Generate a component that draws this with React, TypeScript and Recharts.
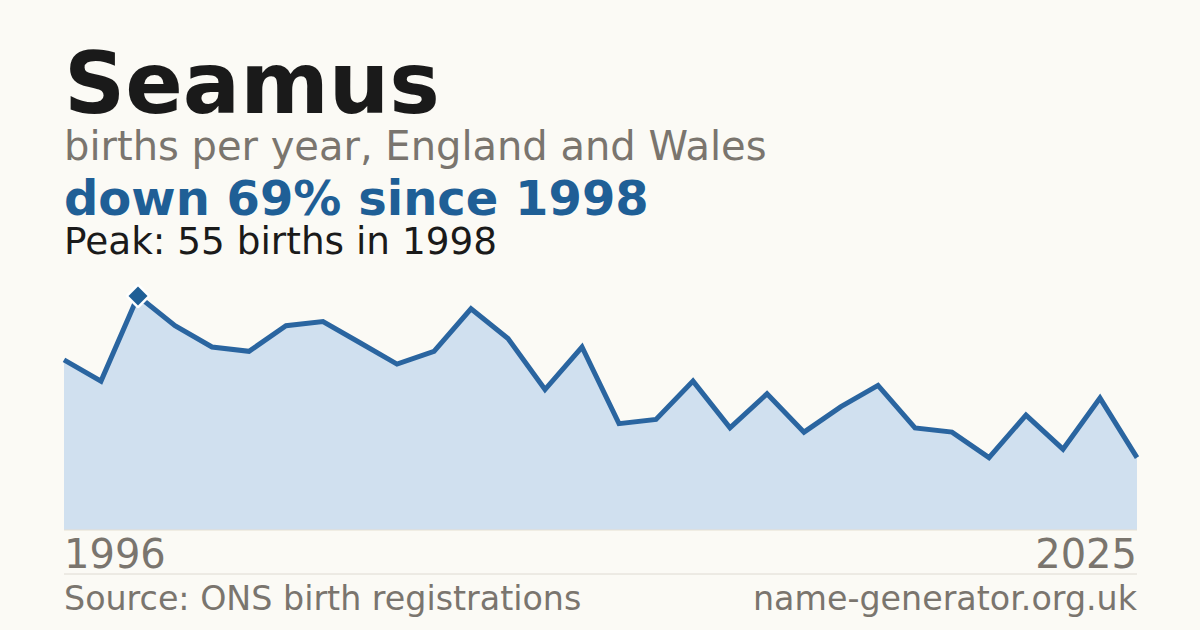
import React from 'react';
import { AreaChart, Area, XAxis, YAxis, ReferenceLine } from 'recharts';

const years = [
  1996, 1997, 1998, 1999, 2000, 2001, 2002, 2003, 2004, 2005,
  2006, 2007, 2008, 2009, 2010, 2011, 2012, 2013, 2014, 2015,
  2016, 2017, 2018, 2019, 2020, 2021, 2022, 2023, 2024, 2025,
];
const births = [
  40, 35, 55, 48, 43, 42, 48, 49, 44, 39,
  42, 52, 45, 33, 43, 25, 26, 35, 24, 32,
  23, 29, 34, 24, 23, 17, 27, 19, 31, 17,
];
const tickYears = [1996, 2025];
const peakYear = 1998;

const data = years.map((year, i) => ({ year, births: births[i] }));

const FONT = '"DejaVu Sans", sans-serif';
const BG = '#fbfaf5';
const GREY = '#7a756e';
const BLUE = '#1f5f96';

const YearTick = (props: any) => {
  const { x, y, payload } = props;
  const first = payload.value === tickYears[0];
  return (
    <text
      x={x}
      y={y + 30}
      textAnchor={first ? 'start' : 'end'}
      fontFamily={FONT}
      fontSize={40}
      fill={GREY}
    >
      {payload.value}
    </text>
  );
};

// diamond marker on the peak year only
const PeakDot = (props: any) => {
  const { cx, cy, payload } = props;
  const key = `dot-${payload.year}`;
  if (payload.year !== peakYear) return <g key={key} />;
  const r = 9.5;
  return (
    <path
      key={key}
      d={`M${cx},${cy - r} L${cx + r},${cy} L${cx},${cy + r} L${cx - r},${cy} Z`}
      fill={BLUE}
      stroke="#ffffff"
      strokeWidth={5}
      strokeLinejoin="round"
      paintOrder="stroke"
    />
  );
};

export default function App() {
  return (
    <div style={{ position: 'fixed', left: 0, top: 0, width: 1200, height: 630, background: BG, overflow: 'hidden' }}>
      <div style={{ position: 'absolute', left: 0, top: 0 }}>
        <AreaChart
          width={1200}
          height={630}
          data={data}
          margin={{ top: 274.7, right: 63, bottom: 60, left: 64 }}
        >
          <XAxis
            dataKey="year"
            type="number"
            domain={[1996, 2025]}
            ticks={tickYears}
            axisLine={false}
            tickLine={false}
            tick={YearTick}
            height={40}
            interval={0}
          />
          <YAxis hide domain={[0, 60]} />
          <ReferenceLine y={0} stroke="#e6dfd2" strokeWidth={1} />
          <Area
            type="linear"
            dataKey="births"
            stroke="#2a65a0"
            strokeWidth={5}
            fill="#d0e0ef"
            fillOpacity={1}
            dot={PeakDot}
            activeDot={false}
            isAnimationActive={false}
          />
        </AreaChart>
      </div>
      <svg width={1200} height={630} style={{ position: 'absolute', left: 0, top: 0, pointerEvents: 'none' }}>
        <text x={64} y={113} fontFamily={FONT} fontWeight="bold" fontSize={85} fill="#1a1a1a">Seamus</text>
        <text x={64} y={160} fontFamily={FONT} fontSize={40} fill={GREY}>births per year, England and Wales</text>
        <text x={64} y={215} fontFamily={FONT} fontWeight="bold" fontSize={48} fill={BLUE}>down 69% since 1998</text>
        <text x={64} y={254} fontFamily={FONT} fontSize={37.4} fill="#1a1a1a">Peak: 55 births in 1998</text>
        <line x1={64} x2={1137} y1={574} y2={574} stroke="#dedad2" strokeWidth={1} />
        <text x={64} y={610} fontFamily={FONT} fontSize={33.3} fill={GREY}>Source: ONS birth registrations</text>
        <text x={1137} y={610} textAnchor="end" fontFamily={FONT} fontSize={33.3} fill={GREY}>name-generator.org.uk</text>
      </svg>
    </div>
  );
}
